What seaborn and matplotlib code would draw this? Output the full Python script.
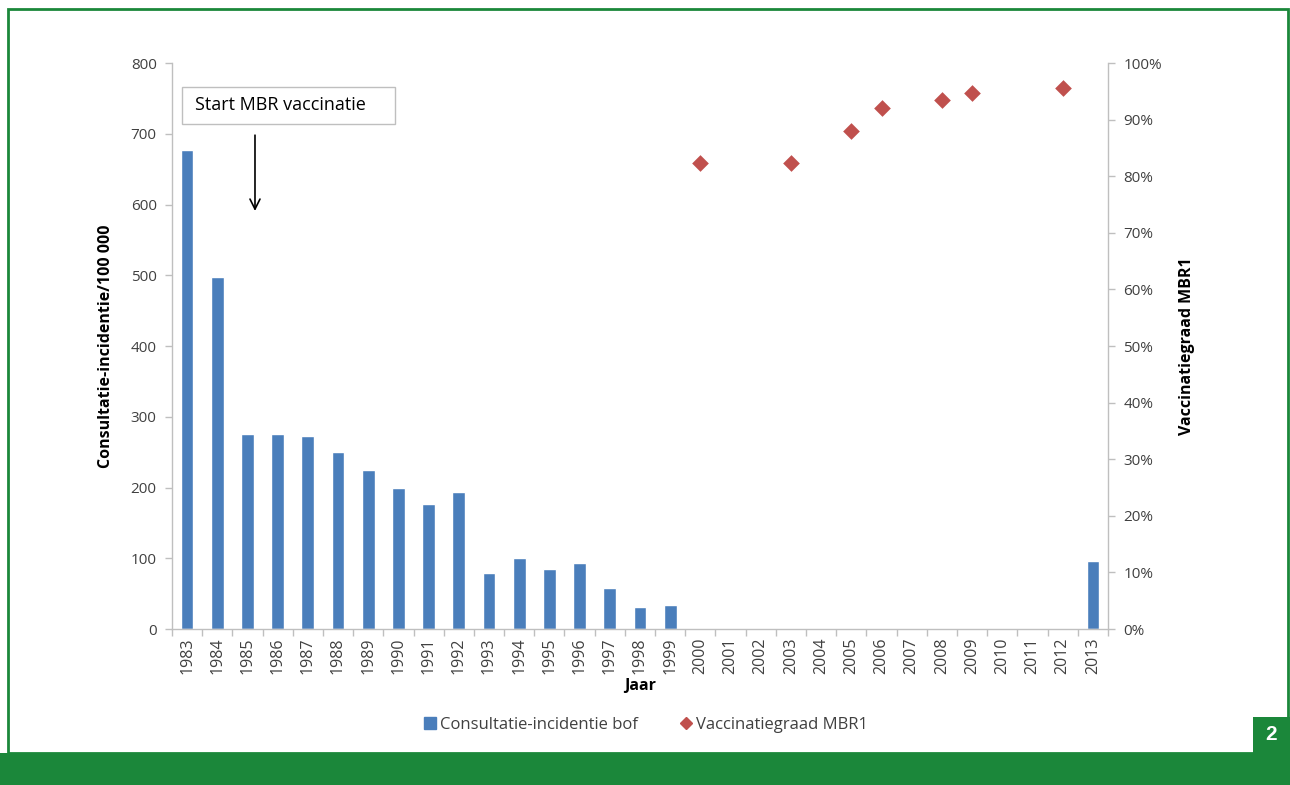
import matplotlib
matplotlib.use("Agg")
import matplotlib.pyplot as plt
from matplotlib.patches import Rectangle
from matplotlib.lines import Line2D
from matplotlib.ticker import FuncFormatter, FixedLocator
import numpy as np
import pandas as pd
import seaborn as sns

sns.set_theme(style="white")
plt.rcParams["font.family"] = ["Open Sans", "DejaVu Sans"]

# Mumps consultation incidence per 100 000 and MMR1 vaccination coverage
years = [str(y) for y in range(1983, 2014)]
incidence = [677, 497, 276, 276, 273, 250, 225, 199, 177, 194,
             79, 100, 85, 93, 58, 31, 34,
             0, 0, 0, 0, 0, 0, 0, 0, 0, 0, 0, 0, 0, 96]
coverage_years = ["2000", "2003", "2005", "2006", "2008", "2009", "2012"]
coverage = [0.823, 0.823, 0.880, 0.920, 0.935, 0.947, 0.956]

bar_color = "#4A7EBB"
dot_color = "#C0504D"
green = "#1B873A"
grey_txt = "#404040"

bars = pd.DataFrame({"Jaar": years, "Incidentie": incidence})
dots = pd.DataFrame({"Jaar": coverage_years, "Graad": coverage})

fig = plt.figure(figsize=(12.9, 7.85), dpi=100)
ax = fig.add_axes([0.1333, 0.1987, 0.7256, 0.7210])

sns.barplot(data=bars, x="Jaar", y="Incidentie", order=years, color=bar_color,
            width=0.42, saturation=1, ax=ax, zorder=2)
ax.set_ylim(0, 800)
ax.set_xlim(-0.5, len(years) - 0.5)
ax.set_yticks(range(0, 801, 100))

ax2 = ax.twinx()
sns.stripplot(data=dots, x="Jaar", y="Graad", order=years, jitter=False,
              marker="D", s=8.5, color=dot_color, linewidth=0, ax=ax2, zorder=3)
ax2.set_ylim(0, 1.0)
ax2.set_xlim(-0.5, len(years) - 0.5)
ax2.set_yticks(np.arange(0, 1.01, 0.1))
ax2.yaxis.set_major_formatter(FuncFormatter(lambda v, p: f"{v*100:.0f}%"))

spine_col = "#BFBFBF"
for a in (ax, ax2):
    a.spines["top"].set_visible(False)
    for side in ("left", "right", "bottom"):
        a.spines[side].set_color(spine_col)
        a.spines[side].set_linewidth(1)
ax.spines["right"].set_visible(False)
ax2.spines["left"].set_visible(False)
ax2.spines["bottom"].set_visible(False)

ax.tick_params(axis="y", which="major", direction="out", length=5, width=1,
               color=spine_col, labelsize=11, labelcolor=grey_txt, pad=6, left=True)
ax2.tick_params(axis="y", which="major", direction="out", length=5, width=1,
                color=spine_col, labelsize=11, labelcolor=grey_txt, pad=6, right=True)
ax.tick_params(axis="x", which="major", length=0, labelsize=11.5,
               labelcolor=grey_txt, labelrotation=90, pad=6)
ax.xaxis.set_minor_locator(FixedLocator(np.arange(-0.5, len(years), 1.0)))
ax.tick_params(axis="x", which="minor", direction="out", length=5, width=1,
               color=spine_col, bottom=True)

ax.set_xlabel("Jaar", fontsize=11.5, fontweight="bold", color="black", labelpad=3)
ax.set_ylabel("Consultatie-incidentie/100 000", fontsize=11.5, fontweight="bold",
              color="black", labelpad=12)
ax2.set_ylabel("Vaccinatiegraad MBR1", fontsize=11.5, fontweight="bold",
               color="black", labelpad=12)

# Annotation marking the start of MMR vaccination
ax.annotate("", xy=(2.25, 587), xytext=(2.25, 702),
            arrowprops=dict(arrowstyle="->", color="black", lw=1.2,
                            mutation_scale=18))
ax.add_patch(Rectangle((-0.17, 714), 7.06, 52, fc="white", ec="#BFBFBF",
                       lw=1, zorder=4, clip_on=False))
ax.text(0.26, 740, "Start MBR vaccinatie", fontsize=13, color="black",
        ha="left", va="center", zorder=5)

handles = [
    Line2D([], [], marker="s", ls="", color=bar_color, markersize=8),
    Line2D([], [], marker="D", ls="", color=dot_color, markersize=6.5),
]
fig.legend(handles, ["Consultatie-incidentie bof", "Vaccinatiegraad MBR1"],
           loc="center", bbox_to_anchor=(0.5, 0.077), ncol=2, frameon=False,
           fontsize=12, handletextpad=0.1, columnspacing=2.4,
           labelcolor=grey_txt, handlelength=1.0)

# Page frame: thin green border, bottom band and figure number tab
fig.add_artist(Rectangle((8 / 1290, 32 / 785), 1280 / 1290, 744 / 785,
                         transform=fig.transFigure, fill=False, ec=green, lw=2))
fig.add_artist(Rectangle((0, 0), 1, 32 / 785, transform=fig.transFigure,
                         fc=green, ec="none"))
fig.add_artist(Rectangle((1253 / 1290, 32 / 785), 37 / 1290, 36 / 785,
                         transform=fig.transFigure, fc=green, ec="none"))
fig.text(1271 / 1290, 50 / 785, "2", color="white", fontsize=15,
         fontweight="bold", ha="center", va="center",
         family=["Liberation Sans", "DejaVu Sans"])

fig.savefig("out.png", dpi=100)
